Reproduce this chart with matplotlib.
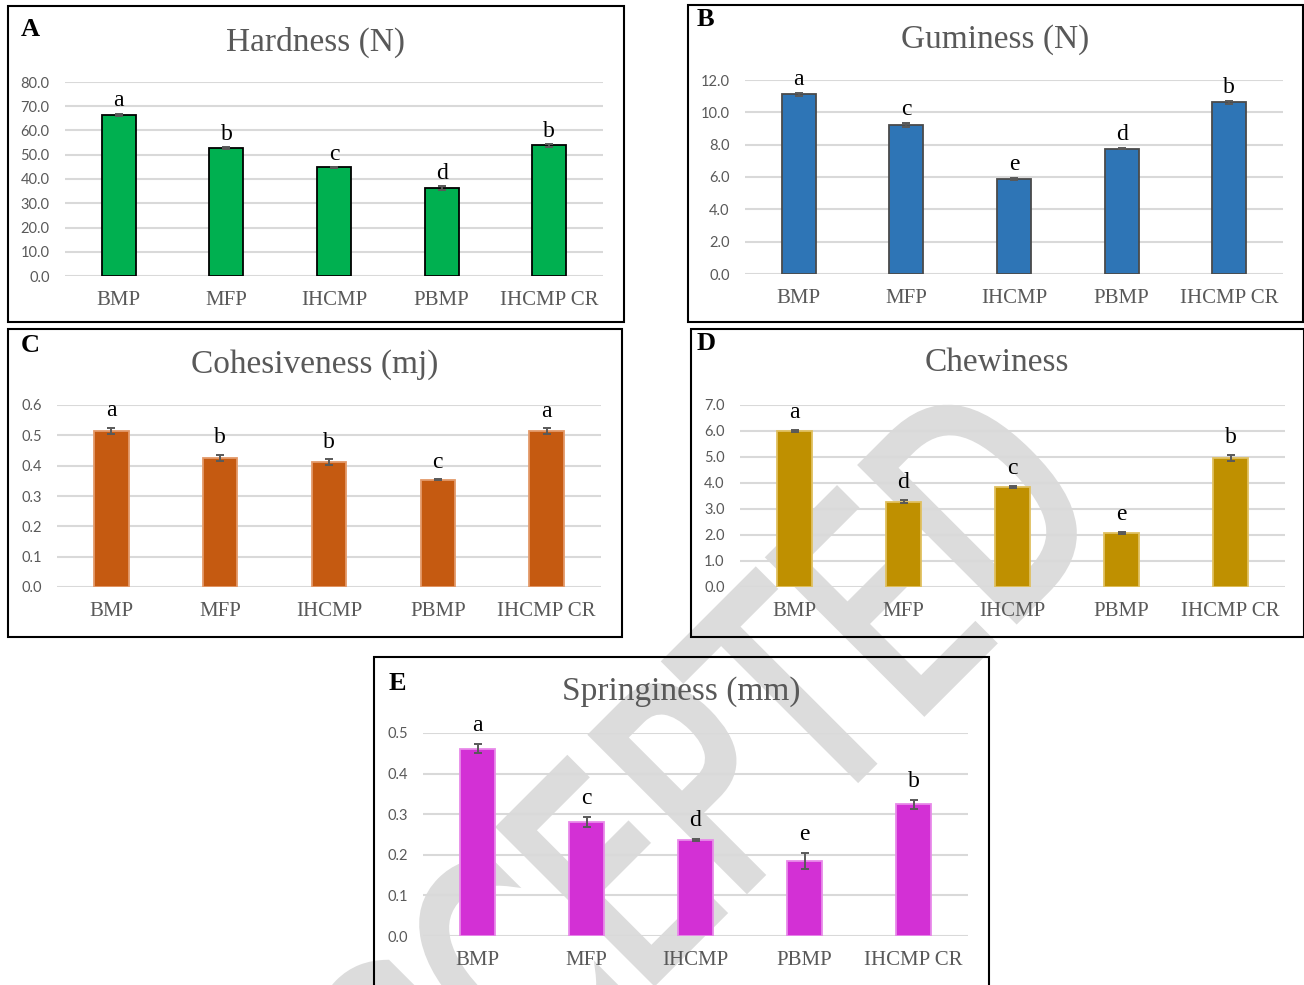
import numpy as np
import matplotlib
matplotlib.use("Agg")
import matplotlib.pyplot as plt
from matplotlib.patches import Rectangle, PathPatch
from matplotlib.textpath import TextPath
from matplotlib.font_manager import FontProperties
from matplotlib.transforms import Affine2D

# 데이터
categories = ["BMP", "MFP", "IHCMP", "PBMP", "IHCMP CR"]

hardness = [66.4, 52.9, 44.8, 36.4, 53.9]
hardness_err = [0.6, 0.4, 0.3, 0.8, 0.6]
hardness_sig = ["a", "b", "c", "d", "b"]

guminess = [11.11, 9.24, 5.88, 7.75, 10.62]
guminess_err = [0.08, 0.12, 0.05, 0.04, 0.1]
guminess_sig = ["a", "c", "e", "d", "b"]

cohesiveness = [0.514, 0.426, 0.412, 0.354, 0.513]
cohesiveness_err = [0.011, 0.01, 0.01, 0.002, 0.01]
cohesiveness_sig = ["a", "b", "b", "c", "a"]

chewiness = [6.0, 3.28, 3.83, 2.08, 4.96]
chewiness_err = [0.03, 0.05, 0.04, 0.04, 0.13]
chewiness_sig = ["a", "d", "c", "e", "b"]

springiness = [0.461, 0.281, 0.237, 0.184, 0.324]
springiness_err = [0.011, 0.012, 0.002, 0.02, 0.011]
springiness_sig = ["a", "c", "d", "e", "b"]

W, H = 1304, 985
GRAY = "#595959"
SERIF = "Liberation Serif"


def fbox(x0, y0, x1, y1):
    # 픽셀 좌표 -> figure 좌표
    return [x0 / W, 1 - y1 / H, (x1 - x0) / W, (y1 - y0) / H]


panels = [
    # letter, title, values, err, sig, color, edge, ymax, step, frame, axes, title pos, letter pos, label offset
    ("A", "Hardness (N)", hardness, hardness_err, hardness_sig, "#00B050", "black", 80, 10,
     (8, 6, 624, 322), (65, 82, 603, 276), (315, 42), (21, 30), 1.5),
    ("B", "Guminess (N)", guminess, guminess_err, guminess_sig, "#2E75B6", "#4a4a4a", 12, 2,
     (688, 5, 1303, 322), (745, 80, 1283, 274), (995, 40), (697, 20), 2),
    ("C", "Cohesiveness (mj)", cohesiveness, cohesiveness_err, cohesiveness_sig, "#C55A11", "#E39A6A", 0.6, 0.1,
     (8, 329, 622, 637), (57, 405, 601, 587), (315, 365), (21, 346), 4.5),
    ("D", "Chewiness", chewiness, chewiness_err, chewiness_sig, "#BF9000", "#E0C060", 7, 1,
     (691, 329, 1304, 637), (740, 405, 1285, 587), (997, 363), (697, 343), 5),
    ("E", "Springiness (mm)", springiness, springiness_err, springiness_sig, "#D330D5", "#E88AE9", 0.5, 0.1,
     (374, 657, 989, 1000), (423, 733, 968, 936), (681, 692), (389, 684), 6),
]

fig = plt.figure(figsize=(W / 100, H / 100), dpi=100)
fig.patch.set_facecolor("white")

# 워터마크 (좁은 글꼴처럼 가로로 눌러서 45도 회전)
wm_prop = FontProperties(family="DejaVu Sans")
EM = 300


def ink(s):
    return TextPath((0, 0), s, size=EM, prop=wm_prop).get_extents()


wm_path = TextPath((0, 0), "ACCEPTED", size=EM, prop=wm_prop)
stem_d = ink("ACCEPTED").x1 - ink("D").width
stem_e = ink("ACCE").x1 - ink("E").width
cap = ink("D").y1
sx = 512 / (stem_d - stem_e)
ang = np.deg2rad(45)
px, py = sx * stem_d, cap
rx = px * np.cos(ang) - py * np.sin(ang)
ry = px * np.sin(ang) + py * np.cos(ang)
wm_trans = Affine2D().scale(sx, 1).rotate_deg(45).translate(862 - rx, (H - 465) - ry)
fig.add_artist(PathPatch(wm_path, transform=wm_trans, facecolor="#DCDCDC",
                         edgecolor="#DCDCDC", linewidth=5, zorder=-5))

x = np.arange(len(categories))
for letter, title, vals, err, sig, color, edge, ymax, step, frame, box, tpos, lpos, off in panels:
    fig.patches.append(Rectangle((frame[0] / W, 1 - frame[3] / H),
                                 (frame[2] - frame[0]) / W, (frame[3] - frame[1]) / H,
                                 transform=fig.transFigure, fill=False,
                                 edgecolor="black", linewidth=1.5, zorder=1))
    ax = fig.add_axes(fbox(*box))
    ax.set_facecolor("none")
    ax.bar(x, vals, width=0.315, color=color, edgecolor=edge, linewidth=1.3,
           yerr=err, error_kw=dict(ecolor=GRAY, elinewidth=1.4, capsize=3, capthick=1.4),
           zorder=3)
    for i in range(len(vals)):
        ax.annotate(sig[i], (x[i], vals[i] + err[i]), xytext=(0, off),
                    textcoords="offset points", ha="center", va="bottom",
                    fontsize=17, family=SERIF, color="black", zorder=4)
    ax.set_xlim(-0.5, 4.5)
    ax.set_ylim(0, ymax)
    ticks = np.arange(0, ymax + step / 2, step)
    ax.set_yticks(ticks)
    ax.set_yticklabels([f"{t:.1f}" for t in ticks], family="Lato", fontsize=10.5, color=GRAY)
    ax.set_xticks(x)
    ax.set_xticklabels(categories, family=SERIF, fontsize=15, color=GRAY)
    ax.tick_params(axis="both", length=0)
    ax.tick_params(axis="y", pad=11)
    ax.tick_params(axis="x", pad=11)
    ax.yaxis.grid(True, color="#D9D9D9", linewidth=1.5)
    ax.set_axisbelow(True)
    for s in ax.spines.values():
        s.set_visible(False)

    fig.text(tpos[0] / W, 1 - tpos[1] / H, title, ha="center", va="center",
             fontsize=24, family=SERIF, color=GRAY)
    fig.text(lpos[0] / W, 1 - lpos[1] / H, letter, ha="left", va="center",
             fontsize=19, family=SERIF, weight="bold", color="black")

fig.savefig("out.png", dpi=100, facecolor="white")
